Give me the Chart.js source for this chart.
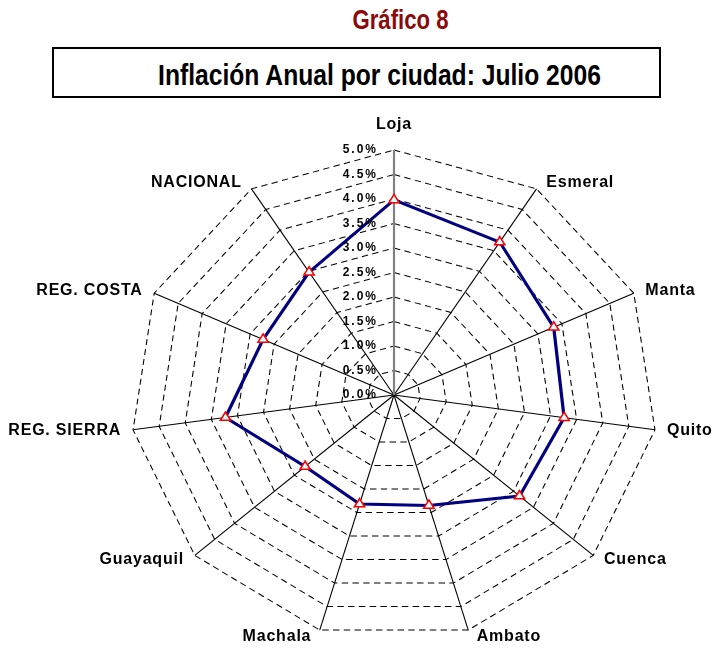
<!DOCTYPE html>
<html>
<head>
<meta charset="utf-8">
<script src="https://cdn.jsdelivr.net/npm/chart.js@4/dist/chart.umd.min.js"></script>
<style>
  html, body { margin:0; padding:0; background:#fff; }
  body { width:714px; height:650px; position:relative; overflow:hidden; font-family:"Liberation Sans", Arial, sans-serif; }
  #t1 { position:absolute; left:0; top:7px; width:801px; text-align:center; font-weight:bold; font-size:27px; line-height:27px;
        color:#8B0A0A; transform-origin:400.5px 0; transform:scaleX(0.82); white-space:nowrap; }
  #box { position:absolute; left:52px; top:47px; width:609px; height:51px; box-sizing:border-box; border:2px solid #000; }
  #t2 { position:absolute; left:0; top:61px; width:759px; text-align:center; font-weight:bold; font-size:29px; line-height:29px;
        color:#000; transform-origin:379.5px 0; transform:scaleX(0.85); white-space:nowrap; }
  #c { position:absolute; left:0; top:0; }
</style>
</head>
<body>
<div id="t1">Gráfico 8</div>
<div id="box"></div>
<div id="t2">Inflación Anual por ciudad: Julio 2006</div>
<canvas id="c" width="714" height="650"></canvas>
<script>
const categories = ['Loja', 'Esmeral', 'Manta', 'Quito', 'Cuenca', 'Ambato', 'Machala', 'Guayaquil', 'REG. SIERRA', 'REG. COSTA', 'NACIONAL'];
const inflation = [3.98, 3.71, 3.33, 3.26, 3.15, 2.35, 2.32, 2.23, 3.23, 2.73, 2.98];
const tickValues = [0.0, 0.5, 1.0, 1.5, 2.0, 2.5, 3.0, 3.5, 4.0, 4.5, 5.0];
const tickLabels = ['0.0%', '0.5%', '1.0%', '1.5%', '2.0%', '2.5%', '3.0%', '3.5%', '4.0%', '4.5%', '5.0%'];

const SX = 1.076; // horizontal stretch of the original picture

const stretchPlugin = {
  id: 'stretch',
  beforeDraw(chart) {
    const s = chart.scales.r, ctx = chart.ctx;
    ctx.save();
    ctx.translate(s.xCenter, 0);
    ctx.scale(SX, 1);
    ctx.translate(-s.xCenter, 0);
  },
  afterDatasetsDraw(chart) {
    chart.ctx.restore();
  },
  afterDraw(chart) {
    const s = chart.scales.r, ctx = chart.ctx;
    ctx.save();
    // category labels
    ctx.font = 'bold 16px "Liberation Sans", Arial, sans-serif';
    ctx.fillStyle = '#000';
    ctx.letterSpacing = '0.8px';
    ctx.textBaseline = 'middle';
    categories.forEach((lab, i) => {
      const th = s.getIndexAngle(i);
      const p = s.getPointPosition(i, s.drawingArea);
      const x = s.xCenter + (p.x - s.xCenter) * SX;
      const sn = Math.sin(th), cs = Math.cos(th);
      if (Math.abs(sn) < 1e-3) {
        ctx.textAlign = 'center';
        ctx.fillText(lab, x, p.y - 25 * cs);
      } else {
        const dx = 7 + 5 * Math.abs(sn);
        ctx.textAlign = sn > 0 ? 'left' : 'right';
        ctx.fillText(lab, x + (sn > 0 ? dx : -dx), p.y - 7 * cs);
      }
    });
    // value tick labels along the Loja axis
    ctx.font = 'bold 12px "Liberation Sans", Arial, sans-serif';
    ctx.letterSpacing = '2px';
    ctx.textAlign = 'right';
    tickValues.forEach((v, k) => {
      const y = s.yCenter - s.getDistanceFromCenterForValue(v);
      ctx.fillText(tickLabels[k], s.xCenter - 16, y);
    });
    ctx.restore();
  }
};

new Chart(document.getElementById('c'), {
  type: 'radar',
  data: {
    labels: categories,
    datasets: [{
      label: 'Inflación anual',
      data: inflation,
      borderColor: '#000080',
      borderWidth: 3,
      fill: false,
      backgroundColor: 'rgba(0,0,0,0)',
      pointStyle: 'triangle',
      pointRadius: 5.5,
      pointBorderColor: '#FF0000',
      pointBackgroundColor: '#CCFFFF',
      pointBorderWidth: 1.5,
      tension: 0
    }]
  },
  options: {
    responsive: false,
    devicePixelRatio: 1,
    animation: false,
    layout: { padding: { left: 149, right: 75, top: 150, bottom: 10 } },
    plugins: { legend: { display: false }, tooltip: { enabled: false } },
    scales: {
      r: {
        min: 0,
        max: 5,
        ticks: { display: false, stepSize: 0.5 },
        pointLabels: { display: false },
        grid: { color: '#000', lineWidth: 1, circular: false, borderDash: [6, 4] },
        border: { dash: [6, 4], dashOffset: 0 },
        angleLines: {
          display: true,
          color: (c) => c.index === 0 ? '#808080' : '#000',
          lineWidth: (c) => c.index === 0 ? 2 : 1
        }
      }
    }
  },
  plugins: [stretchPlugin]
});
</script>
</body>
</html>
